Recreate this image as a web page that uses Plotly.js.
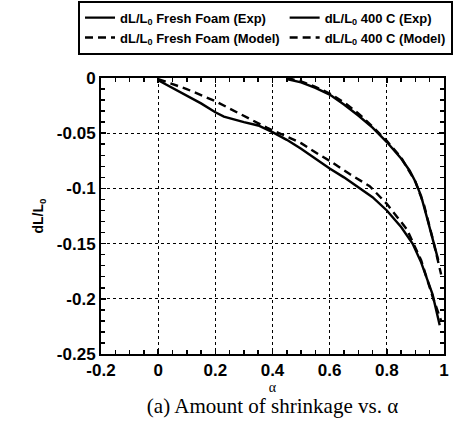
<!DOCTYPE html>
<html>
<head>
<meta charset="utf-8">
<script src="https://cdn.plot.ly/plotly-3.0.1.min.js"></script>
<style>html,body{margin:0;padding:0;background:#fff;}#chart{width:461px;height:426px;}</style>
</head>
<body>
<div id="chart"></div>
<script>
// ---- data ----
const freshExpX   = [0, 0.05, 0.1, 0.15, 0.2, 0.23, 0.3, 0.35, 0.4, 0.45, 0.5, 0.55, 0.6, 0.65, 0.7, 0.75, 0.8, 0.85, 0.89, 0.92, 0.96, 0.985];
const freshExpY   = [-0.002, -0.009, -0.016, -0.023, -0.031, -0.035, -0.040, -0.043, -0.049, -0.056, -0.064, -0.073, -0.082, -0.090, -0.099, -0.108, -0.120, -0.135, -0.150, -0.167, -0.196, -0.224];
const freshModX   = [0, 0.1, 0.2, 0.3, 0.38, 0.45, 0.5, 0.56, 0.6, 0.67, 0.74, 0.8, 0.87, 0.92, 0.96, 0.99];
const freshModY   = [-0.001, -0.010, -0.021, -0.034, -0.045, -0.053, -0.059, -0.069, -0.075, -0.087, -0.098, -0.114, -0.137, -0.165, -0.198, -0.220];
const hotExpX     = [0.45, 0.5, 0.55, 0.6, 0.65, 0.7, 0.75, 0.8, 0.85, 0.88, 0.9, 0.92, 0.94, 0.96, 0.98];
const hotExpY     = [-0.001, -0.004, -0.009, -0.015, -0.024, -0.034, -0.045, -0.058, -0.073, -0.084, -0.094, -0.107, -0.126, -0.146, -0.165];
const hotModX     = [0.45, 0.5, 0.55, 0.6, 0.65, 0.7, 0.75, 0.8, 0.85, 0.9, 0.93, 0.96, 0.99];
const hotModY     = [0.0, -0.003, -0.008, -0.014, -0.022, -0.032, -0.044, -0.057, -0.072, -0.094, -0.115, -0.145, -0.178];
const seriesNames = ['dL/L<sub>0</sub> Fresh Foam (Exp)', 'dL/L<sub>0</sub> 400 C (Exp)', 'dL/L<sub>0</sub> Fresh Foam (Model)', 'dL/L<sub>0</sub> 400 C (Model)'];
const xTickVals = [-0.2, 0, 0.2, 0.4, 0.6, 0.8, 1];
const xTickText = ['-0.2', '0', '0.2', '0.4', '0.6', '0.8', '1'];
const yTickVals = [0, -0.05, -0.1, -0.15, -0.2, -0.25];
const yTickText = ['0', '-0.05', '-0.1', '-0.15', '-0.2', '-0.25'];

const sans = 'Liberation Sans, Arial, sans-serif';
const serif = 'Liberation Serif, Times New Roman, serif';
const solid = {color: 'black', width: 2.4, dash: 'solid'};
const dashed = {color: 'black', width: 2.4, dash: '8px,5px'};

const traces = [
  {x: freshExpX, y: freshExpY, name: seriesNames[0], mode: 'lines', line: solid},
  {x: hotExpX, y: hotExpY, name: seriesNames[1], mode: 'lines', line: solid},
  {x: freshModX, y: freshModY, name: seriesNames[2], mode: 'lines', line: dashed},
  {x: hotModX, y: hotModY, name: seriesNames[3], mode: 'lines', line: dashed}
];

const axisCommon = {
  showline: true, linecolor: 'black', linewidth: 2, mirror: 'ticks',
  ticks: 'inside', ticklen: 5, tickwidth: 1.5, tickcolor: 'black',
  showgrid: true, gridcolor: 'black', gridwidth: 1.3, griddash: 'dot',
  zeroline: false, tickmode: 'array', automargin: false,
  tickfont: {family: sans, size: 17, color: 'black', weight: 'bold'}
};

const layout = {
  width: 461, height: 426,
  margin: {l: 101, r: 17, t: 78, b: 72, autoexpand: false},
  paper_bgcolor: 'white', plot_bgcolor: 'white',
  showlegend: true,
  legend: {
    orientation: 'h', x: -0.067, xanchor: 'left', y: 1.28, yanchor: 'top',
    bgcolor: 'white', bordercolor: 'black', borderwidth: 2,
    font: {family: sans, size: 13, color: 'black', weight: 'bold'},
    traceorder: 'normal'
  },
  xaxis: Object.assign({}, axisCommon, {
    range: [-0.2, 1], tickvals: xTickVals, ticktext: xTickText,
    minor: {tickmode: 'linear', tick0: 0, dtick: 0.05, ticks: 'inside', ticklen: 4, tickwidth: 1.5, tickcolor: 'black', showgrid: false},
    title: {text: 'α', font: {family: serif, size: 14, color: 'black'}, standoff: 0}
  }),
  yaxis: Object.assign({}, axisCommon, {
    range: [-0.25, 0], tickvals: yTickVals, ticktext: yTickText,
    minor: {tickmode: 'linear', tick0: 0, dtick: 0.01, ticks: 'inside', ticklen: 4, tickwidth: 1.5, tickcolor: 'black', showgrid: false},
    title: {text: 'dL/L<sub>0</sub>', font: {family: sans, size: 14, color: 'black', weight: 'bold'}, standoff: 10}
  }),
  title: {
    text: '(a) Amount of shrinkage vs. α',
    font: {family: serif, size: 21, color: 'black'},
    x: 0.5, xref: 'paper', xanchor: 'center', y: 0.047, yref: 'container', yanchor: 'middle'
  }
};

Plotly.newPlot('chart', traces, layout, {displayModeBar: false, staticPlot: true});
</script>
</body>
</html>
